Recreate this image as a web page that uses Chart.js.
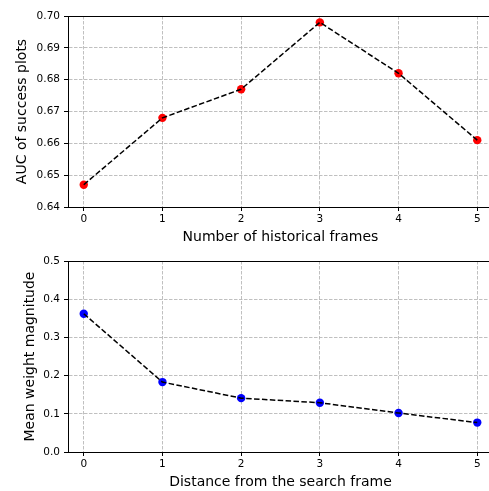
<!DOCTYPE html>
<html><head><meta charset="utf-8">
<script src="https://cdn.jsdelivr.net/npm/chart.js@4.4.1/dist/chart.umd.min.js"></script>
<style>
html,body{margin:0;padding:0;background:#fff;}
#wrap{position:relative;width:489px;height:491px;overflow:hidden;background:#fff;}
canvas{position:absolute;left:0;}
</style></head>
<body>
<div id="wrap">
<canvas id="c1" width="510" height="250" style="top:0px"></canvas>
<canvas id="c2" width="510" height="241" style="top:250px"></canvas>
</div>
<script>
// ---- data ----
const framesX = [0, 1, 2, 3, 4, 5];
const aucValues = [0.647, 0.668, 0.677, 0.698, 0.682, 0.661];
const distanceX = [0, 1, 2, 3, 4, 5];
const weightValues = [0.362, 0.183, 0.141, 0.129, 0.102, 0.077];
const xTicks = [0, 1, 2, 3, 4, 5];
const xTickLabels = ['0', '1', '2', '3', '4', '5'];
const aucTicks = [0.64, 0.65, 0.66, 0.67, 0.68, 0.69, 0.70];
const aucTickLabels = ['0.64', '0.65', '0.66', '0.67', '0.68', '0.69', '0.70'];
const weightTicks = [0.0, 0.1, 0.2, 0.3, 0.4, 0.5];
const weightTickLabels = ['0.0', '0.1', '0.2', '0.3', '0.4', '0.5'];
const topXTitle = 'Number of historical frames';
const topYTitle = 'AUC of success plots';
const botXTitle = 'Distance from the search frame';
const botYTitle = 'Mean weight magnitude';

const FONT = 'DejaVu Sans';

function makeChart(id, xs, ys, color, yTicks, yLabels, xTitle, yTitle, cfg) {
  const pts = xs.map((x, i) => ({x: x, y: ys[i]}));
  const gridCommon = {
    color: '#b0b0b0', lineWidth: 0.8, drawTicks: true, tickLength: 4,
    tickColor: '#000', tickWidth: 1, tickBorderDash: []
  };
  const borderCommon = {display: true, color: '#000', width: 1, dash: [3.5, 1.5], z: 1};
  return new Chart(document.getElementById(id), {
    type: 'scatter',
    data: {
      datasets: [
        {data: pts, showLine: false, pointRadius: 4.2, pointBorderWidth: 0,
         pointBackgroundColor: color, order: 2},
        {data: pts, showLine: true, pointRadius: 0, borderColor: '#000',
         borderWidth: 1.5, borderDash: [5.5, 2.4], fill: false, order: 1}
      ]
    },
    options: {
      responsive: false, animation: false, devicePixelRatio: 1,
      layout: {padding: {left: 0, right: 17, top: cfg.padTop, bottom: 0}},
      plugins: {legend: {display: false}, tooltip: {enabled: false}},
      scales: {
        x: {
          type: 'linear', position: 'bottom', min: -0.2, max: 5.2,
          afterBuildTicks: s => { s.ticks = xTicks.map(v => ({value: v})); },
          afterFit: s => { s.height = cfg.xAxisH; },
          ticks: {font: {family: FONT, size: 10.5}, color: '#000', padding: 2,
                  maxRotation: 0, autoSkip: false,
                  callback: (v, i) => xTickLabels[i]},
          grid: gridCommon,
          border: borderCommon,
          title: {display: true, text: xTitle, color: '#000',
                  font: {family: FONT, size: 14}, padding: {top: 0, bottom: cfg.xTitlePad}}
        },
        xTop: {
          type: 'linear', position: 'top', min: -0.2, max: 5.2,
          afterFit: s => { s.height = 0; },
          ticks: {display: false},
          grid: {display: false, drawTicks: false},
          border: {display: true, color: '#000', width: 1, z: 1}
        },
        y: {
          type: 'linear', position: 'left', min: yTicks[0], max: yTicks[yTicks.length - 1],
          afterBuildTicks: s => { s.ticks = yTicks.map(v => ({value: v})); },
          afterFit: s => { s.width = 68; },
          ticks: {font: {family: FONT, size: 10.5}, color: '#000', padding: 4,
                  autoSkip: false, callback: (v, i) => yLabels[i]},
          grid: gridCommon,
          border: borderCommon,
          title: {display: true, text: yTitle, color: '#000',
                  font: {family: FONT, size: 14}, padding: {top: cfg.yTitlePad, bottom: 0}}
        }
      }
    }
  });
}

makeChart('c1', framesX, aucValues, '#ff0000', aucTicks, aucTickLabels, topXTitle, topYTitle,
          {padTop: 16, xAxisH: 43, xTitlePad: 4.5, yTitlePad: 13.5});
makeChart('c2', distanceX, weightValues, '#0000ff', weightTicks, weightTickLabels, botXTitle, botYTitle,
          {padTop: 11, xAxisH: 39, xTitlePad: 0.5, yTitlePad: 21.5});
</script>
</body></html>
